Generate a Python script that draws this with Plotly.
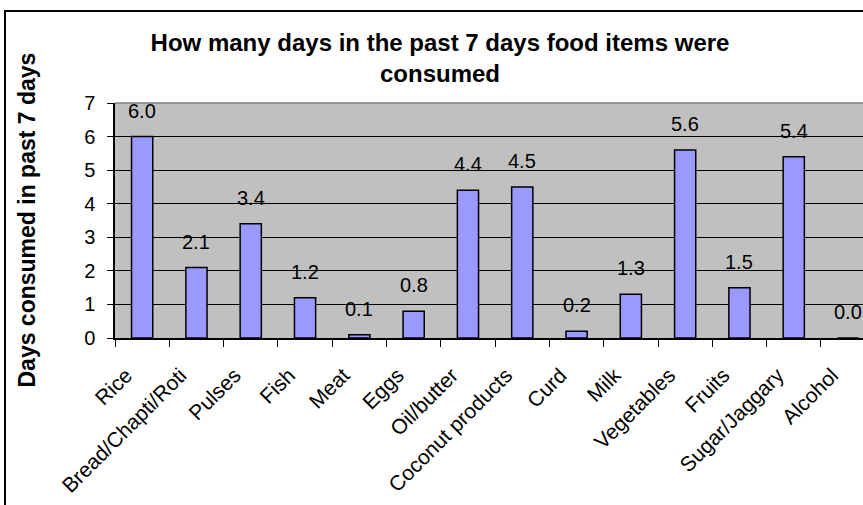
import plotly.graph_objects as go

categories = ["Rice", "Bread/Chapti/Roti", "Pulses", "Fish", "Meat", "Eggs", "Oil/butter",
              "Coconut products", "Curd", "Milk", "Vegetables", "Fruits", "Sugar/Jaggary", "Alcohol"]
values = [6.0, 2.1, 3.4, 1.2, 0.1, 0.8, 4.4, 4.5, 0.2, 1.3, 5.6, 1.5, 5.4, 0.0]
labels = ["6.0", "2.1", "3.4", "1.2", "0.1", "0.8", "4.4", "4.5", "0.2", "1.3", "5.6", "1.5", "5.4", "0.0"]
y_ticks = [0, 1, 2, 3, 4, 5, 6, 7]

W, H = 863, 505
ML, MR, MT, MB = 115, 0, 103, 167
pw = W - ML - MR
ph = H - MT - MB
spacing = 54.3
FONT = "Liberation Sans, Arial"

fig = go.Figure()
fig.add_trace(go.Bar(
    x=categories, y=values,
    marker=dict(color="#9999FF", line=dict(color="black", width=1.5)),
    showlegend=False, hoverinfo="skip",
))

for c, v, t in zip(categories, values, labels):
    fig.add_annotation(x=c, y=v, text=t, showarrow=False, yanchor="bottom",
                       yshift=13, font=dict(family=FONT, size=20, color="black"))

# y-axis title
fig.add_annotation(xref="paper", yref="paper", x=(26 - ML) / pw, y=0.5,
                   xanchor="center", yanchor="middle",
                   text="<b>Days consumed in past 7 days</b>", textangle=-90, showarrow=False,
                   font=dict(family=FONT, size=23, color="black"))

# plot area top border (gray)
fig.add_shape(type="line", xref="paper", yref="paper", x0=0, x1=1, y0=1, y1=1,
              line=dict(color="#808080", width=1.5), layer="above")
# outer chart border
fig.add_shape(type="rect", xref="paper", yref="paper",
              x0=(5 - ML) / pw, x1=(W + 10 - ML) / pw,
              y0=(MT + ph - (H + 10)) / ph, y1=(MT + ph - 11) / ph,
              line=dict(color="black", width=2), fillcolor="rgba(0,0,0,0)", layer="below")

fig.update_layout(
    width=W, height=H,
    margin=dict(l=ML, r=MR, t=MT, b=MB, autoexpand=False),
    paper_bgcolor="white", plot_bgcolor="#C0C0C0",
    bargap=0.61,
    font=dict(family=FONT, size=20, color="black"),
    title=dict(text="<b>How many days in the past 7 days food items were<br>consumed</b>",
               xref="container", yref="container", x=440 / W, y=1 - 51 / H,
               xanchor="center", yanchor="middle",
               font=dict(family=FONT, size=24, color="black")),
    xaxis=dict(
        type="category", range=[-0.5, -0.5 + pw / spacing],
        tickson="boundaries", ticks="outside", ticklen=7, tickcolor="black", tickwidth=1,
        showline=True, linecolor="black", linewidth=1.5, showgrid=False,
        tickangle=-45, tickfont=dict(size=21), automargin=False,
        ticklabelstandoff=15, ticklabelshift=-16,
    ),
    yaxis=dict(
        range=[0, 7], tickvals=y_ticks, ticks="outside", ticklen=6, tickcolor="black",
        showline=True, linecolor="black", linewidth=1.5,
        showgrid=True, gridcolor="black", gridwidth=1, zeroline=False,
        tickfont=dict(size=20), automargin=False, ticklabelstandoff=8,
    ),
)

fig.write_html("out.html")
